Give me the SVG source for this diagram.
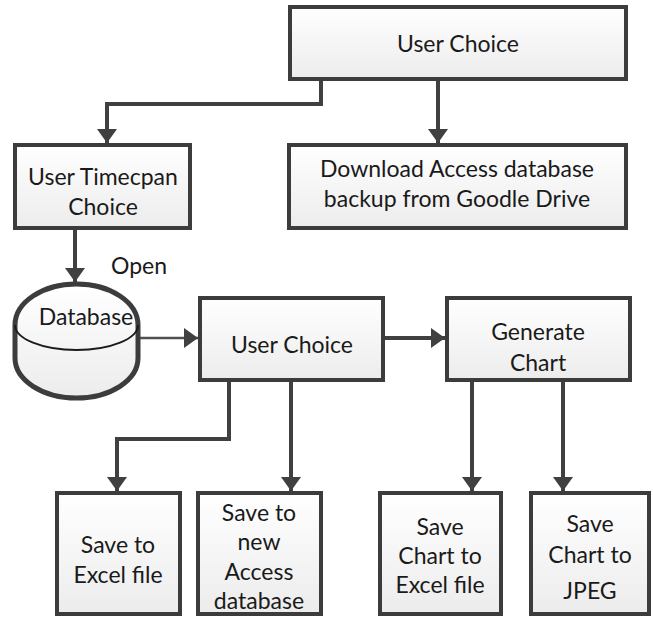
<svg xmlns="http://www.w3.org/2000/svg" width="653" height="620" viewBox="0 0 653 620">
<defs>
<linearGradient id="g" x1="0" y1="0" x2="0" y2="1"><stop offset="0" stop-color="#ffffff"/><stop offset="1" stop-color="#ececec"/></linearGradient>
<marker id="ah" markerUnits="userSpaceOnUse" markerWidth="16" markerHeight="22" refX="14" refY="10" orient="auto"><path d="M0,0 L14,10 L0,20 Z" fill="#404040"/></marker>
</defs>
<style>
.box{fill:url(#g);stroke:#3c3c3c;stroke-width:4}
.ln{fill:none;stroke:#404040;stroke-width:4}
.thin{fill:none;stroke:#505050;stroke-width:2.5}
text{font-family:Lato,"Open Sans",sans-serif;font-size:23px;fill:#1a1a1a;text-anchor:middle}
</style>
<rect width="653" height="620" fill="#ffffff"/>
<g id="connectors">
<path class="ln" d="M321,79 V104 H107 V143" marker-end="url(#ah)"/>
<path class="ln" d="M438,79 V143" marker-end="url(#ah)"/>
<path class="ln" d="M75,228 V282" marker-end="url(#ah)"/>
<path class="thin" d="M140,338 H198" marker-end="url(#ah)"/>
<path class="ln" d="M383,338 H445" marker-end="url(#ah)"/>
<path class="ln" d="M229,380 V439 H117 V491" marker-end="url(#ah)"/>
<path class="ln" d="M291,380 V491" marker-end="url(#ah)"/>
<path class="ln" d="M472,380 V491" marker-end="url(#ah)"/>
<path class="ln" d="M563,380 V491" marker-end="url(#ah)"/>
<text x="139" y="274">Open</text>
</g>
<g id="userChoiceTop"><rect class="box" x="290" y="7" width="336" height="72"/><text x="458" y="52">User Choice</text></g>
<g id="timespan"><rect class="box" x="15" y="145" width="175" height="83"/><text x="103" y="185">User Timecpan</text><text x="103" y="215">Choice</text></g>
<g id="download"><rect class="box" x="289" y="145" width="337" height="83"/><text x="457" y="177">Download Access database</text><text x="457" y="207">backup from Goodle Drive</text></g>
<g id="database">
<path d="M15,325 V358 A61.5,40 0 0 0 138,358 V325 A61.5,41 0 0 0 15,325 Z" fill="url(#g)" stroke="#3c3c3c" stroke-width="5"/>
<path d="M15,325 A61.5,25 0 0 0 138,325" fill="none" stroke="#1a1a1a" stroke-width="1.8"/>
<text x="86" y="325">Database</text>
</g>
<g id="userChoiceMid"><rect class="box" x="200" y="298" width="183" height="82"/><text x="292" y="353">User Choice</text></g>
<g id="generate"><rect class="box" x="447" y="298" width="183" height="82"/><text x="538" y="340">Generate</text><text x="538" y="371">Chart</text></g>
<g id="saveExcel"><rect class="box" x="57" y="493" width="123" height="121"/><text x="118" y="553">Save to</text><text x="118" y="583">Excel file</text></g>
<g id="saveAccess"><rect class="box" x="198" y="493" width="123" height="121"/><text x="259" y="521">Save to</text><text x="259" y="550">new</text><text x="259" y="580">Access</text><text x="259" y="609">database</text></g>
<g id="saveChartExcel"><rect class="box" x="380" y="493" width="121" height="121"/><text x="440" y="535">Save</text><text x="440" y="564">Chart to</text><text x="440" y="593">Excel file</text></g>
<g id="saveJpeg"><rect class="box" x="531" y="493" width="118" height="121"/><text x="590" y="532">Save</text><text x="590" y="563">Chart to</text><text x="590" y="599">JPEG</text></g>
</svg>
